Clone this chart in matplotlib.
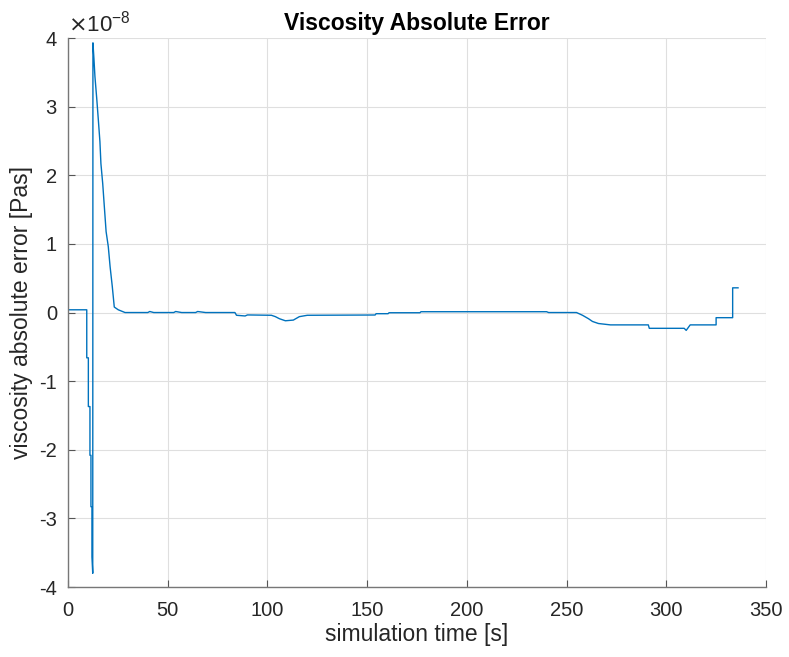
import matplotlib
matplotlib.use("Agg")
import matplotlib.pyplot as plt
import numpy as np

plt.rcParams['font.family'] = ['Liberation Sans', 'DejaVu Sans']

# simulation time [s] and viscosity absolute error [x1e-8 Pas] (polyline samples)
time_s = [0.0, 9.4, 9.4, 10.2, 10.2, 11.0, 11.0, 11.5, 11.5, 12.0, 12.0, 12.4,
          12.5, 13.0, 13.5, 14.4, 15.2, 16.0, 16.5, 17.4, 18.1, 19.1, 20.2, 21.1,
          22.2, 23.2, 25.2, 28.6,
          40.0, 41.0, 43.0, 53.0, 54.0, 57.0, 64.0, 65.0, 69.0, 83.7, 84.5, 88.8,
          90.0, 102.0, 104.0, 106.0, 109.0, 113.0, 116.0, 120.0, 154.0, 154.5,
          160.5, 161.0, 176.5, 177.0, 240.0, 241.0, 255.0, 258.0, 261.0, 263.0,
          266.0, 272.0, 291.0, 291.5, 309.0, 310.0, 312.0, 325.0, 325.0, 333.3,
          333.3, 336.0]
error_e8 = [0.04, 0.04, -0.66, -0.66, -1.37, -1.37, -2.08, -2.08, -2.83, -2.83, -3.56, -3.80,
            3.93, 3.70, 3.44, 3.12, 2.81, 2.49, 2.17, 1.88, 1.59, 1.18, 0.96, 0.67,
            0.38, 0.08, 0.04, 0.0,
            0.0, 0.015, 0.0, 0.0, 0.015, 0.0, 0.0, 0.015, 0.0, 0.0, -0.04, -0.05,
            -0.035, -0.04, -0.06, -0.09, -0.12, -0.11, -0.06, -0.04, -0.036, -0.017,
            -0.017, -0.003, -0.003, 0.012, 0.012, 0.0, 0.0, -0.04, -0.09, -0.13,
            -0.16, -0.18, -0.18, -0.23, -0.23, -0.26, -0.18, -0.18, -0.075, -0.075,
            0.36, 0.36]

x_ticks = [0, 50, 100, 150, 200, 250, 300, 350]
y_ticks = [-4, -3, -2, -1, 0, 1, 2, 3, 4]

txt = '#262626'
fig = plt.figure(figsize=(7.89, 6.57), dpi=100)
ax = fig.add_axes([0.0862, 0.1065, 0.8846, 0.8356])

t = np.array(time_s)
v = np.array(error_e8) * 1e-8
ax.plot(t, v, color='#0072BD', lw=1.0)

ax.set_xlim(0, 350)
ax.set_ylim(-4e-8, 4e-8)
ax.set_xticks(x_ticks)
ax.set_xticklabels([str(x) for x in x_ticks])
ax.set_yticks([y * 1e-8 for y in y_ticks])
ax.set_yticklabels([str(y) for y in y_ticks])
ax.grid(True, color='#DFDFDF', lw=0.8)
ax.set_axisbelow(True)

for s in ['top', 'right']:
    ax.spines[s].set_visible(False)
for s in ['left', 'bottom']:
    ax.spines[s].set_color('#777777')
    ax.spines[s].set_linewidth(1.0)
ax.tick_params(direction='in', length=5, width=0.8, color='#555555',
               labelsize=14.5, labelcolor=txt)
ax.tick_params(axis='x', pad=10)
ax.tick_params(axis='y', pad=8)

ax.set_xlabel('simulation time [s]', fontsize=16.5, color=txt, labelpad=2)
ax.set_ylabel('viscosity absolute error [Pas]', fontsize=16.5, color=txt, labelpad=4)
ax.set_title('Viscosity Absolute Error', fontsize=16.5, fontweight='bold', color='black', pad=6)
ax.text(0.0, 1.002, r'$\times$10$^{\mathregular{-8}}$', transform=ax.transAxes, fontsize=16,
        color=txt, ha='left', va='bottom')

fig.savefig('out.png', dpi=100)
